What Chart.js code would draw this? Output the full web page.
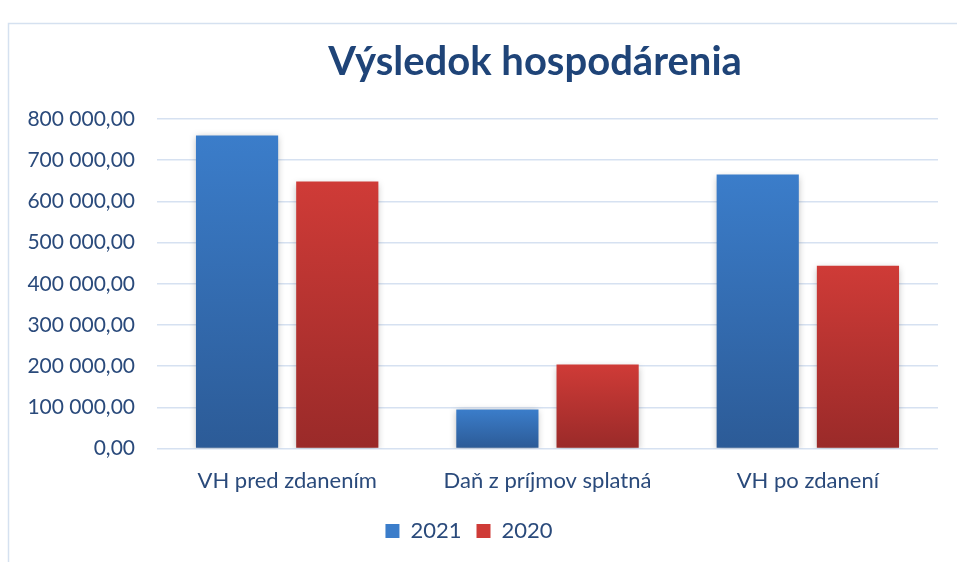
<!DOCTYPE html>
<html><head><meta charset="utf-8">
<script src="https://cdn.jsdelivr.net/npm/chart.js@4/dist/chart.umd.min.js"></script>
<style>html,body{margin:0;padding:0;background:#fff;}#wrap{position:relative;width:957px;height:562px;}</style>
</head><body><div id="wrap"><canvas id="c" width="957" height="562"></canvas></div>
<script>
const categories = ["VH pred zdanením", "Daň z príjmov splatná", "VH po zdanení"];
const seriesNames = ["2021", "2020"];
const values2021 = [760000, 95000, 665000];
const values2020 = [648000, 204000, 444000];
const tickValues = [0, 100000, 200000, 300000, 400000, 500000, 600000, 700000, 800000];
const chartTitle = 'Výsledok hospodárenia';

const FONT = "Lato, 'Open Sans', sans-serif";
const TXT = '#2a4a7b';
const grads = [['#3b7dca', '#2c5b97'], ['#cf3b37', '#9a2a29']];

function fmt(v) {
  const s = Math.round(v).toString().replace(/\B(?=(\d{3})+(?!\d))/g, ' ');
  return s + ',00';
}

const gradPlugin = {
  id: 'grad',
  beforeDatasetsDraw(chart) {
    const ctx = chart.ctx;
    chart.data.datasets.forEach((ds, i) => {
      const meta = chart.getDatasetMeta(i);
      meta.data.forEach(el => {
        const g = ctx.createLinearGradient(0, el.y, 0, el.base);
        g.addColorStop(0, grads[i][0]);
        g.addColorStop(1, grads[i][1]);
        el.options.backgroundColor = g;
      });
    });
    ctx.save();
    ctx.shadowColor = 'rgba(0,0,0,0.28)';
    ctx.shadowBlur = 7;
    ctx.shadowOffsetX = 0;
    ctx.shadowOffsetY = 2;
  },
  afterDatasetsDraw(chart) { chart.ctx.restore(); }
};

const framePlugin = {
  id: 'frame',
  beforeDraw(chart) {
    const ctx = chart.ctx;
    ctx.save();
    ctx.strokeStyle = '#d5e1f0';
    ctx.lineWidth = 1.5;
    ctx.beginPath();
    ctx.moveTo(8.5, 562);
    ctx.lineTo(8.5, 23.5);
    ctx.lineTo(957, 23.5);
    ctx.stroke();
    ctx.restore();
  },
  afterDraw(chart) {
    const ctx = chart.ctx;
    ctx.save();
    ctx.fillStyle = '#1f4478';
    ctx.font = "bold 40px " + FONT;
    ctx.textAlign = 'center';
    ctx.textBaseline = 'middle';
    ctx.fillText(chartTitle, 535, 62);
    ctx.restore();
  }
};

new Chart(document.getElementById('c'), {
  type: 'bar',
  data: {
    labels: categories,
    datasets: [
      { label: seriesNames[0], data: values2021, backgroundColor: () => grads[0][0] },
      { label: seriesNames[1], data: values2020, backgroundColor: () => grads[1][0] }
    ]
  },
  plugins: [framePlugin, gradPlugin],
  options: {
    responsive: false,
    animation: false,
    layout: { padding: { left: 0, right: 19, top: 119, bottom: 10 } },
    datasets: { bar: { categoryPercentage: 0.77, barPercentage: 0.82 } },
    plugins: {
      title: { display: false },
      legend: {
        position: 'bottom',
        labels: {
          color: TXT,
          font: { family: FONT, size: 22 },
          boxWidth: 14, boxHeight: 14,
          padding: 15,
          generateLabels(chart) {
            return chart.data.datasets.map((d, i) => ({
              text: d.label, fillStyle: grads[i][0], strokeStyle: grads[i][0],
              lineWidth: 0, datasetIndex: i, fontColor: TXT
            }));
          }
        }
      },
      tooltip: { enabled: false }
    },
    scales: {
      x: {
        grid: { display: false },
        border: { display: false },
        ticks: { color: TXT, font: { family: FONT, size: 22 }, padding: 11 }
      },
      y: {
        min: 0, max: 800000,
        afterBuildTicks(scale) { scale.ticks = tickValues.map(v => ({ value: v })); },
        afterFit(scale) { scale.width = 157; },
        grid: { color: '#d6e1f1', lineWidth: 1.5, drawTicks: false },
        border: { display: false },
        ticks: { color: TXT, font: { family: FONT, size: 21 }, padding: 22, callback: v => fmt(v) }
      }
    }
  }
});
</script></body></html>
